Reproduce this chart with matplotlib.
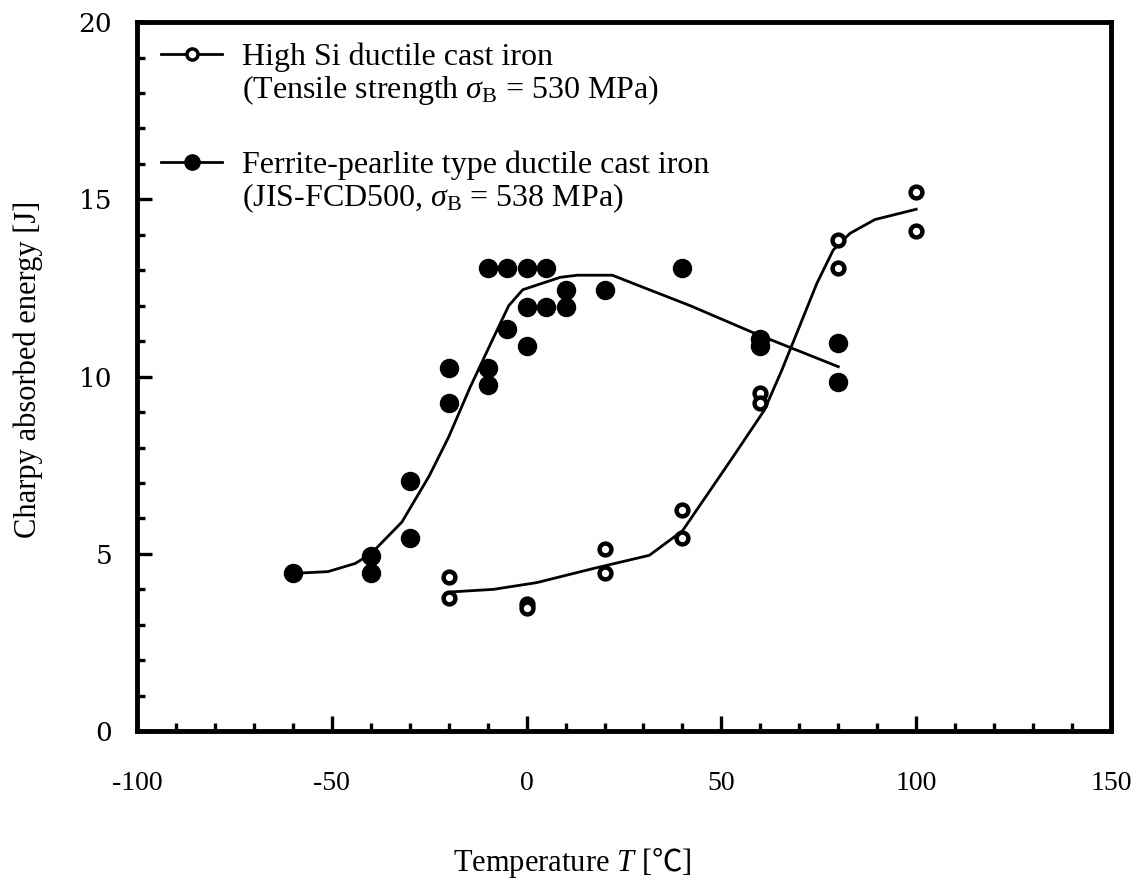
import numpy as np
import matplotlib
matplotlib.use("Agg")
import matplotlib.pyplot as plt

plt.rcParams['font.family'] = ['Liberation Serif', 'DejaVu Serif']
plt.rcParams['mathtext.fontset'] = 'custom'
plt.rcParams['mathtext.rm'] = 'Liberation Serif'
plt.rcParams['mathtext.it'] = 'Liberation Serif:italic'
plt.rcParams['mathtext.sf'] = 'Noto Sans CJK JP'
plt.rcParams['axes.unicode_minus'] = False

# measured points, high Si ductile cast iron
si_temp = [-20, -20, 0, 0, 20, 20, 40, 40, 60, 60, 80, 80, 100, 100]
si_energy = [4.35, 3.75, 3.6, 3.48, 5.15, 4.45, 6.25, 5.45, 9.55, 9.25, 13.85, 13.05, 15.2, 14.1]

# fitted transition curve, high Si
si_fit_temp = [-19, -8.5, 2.6, 17.2, 31.5, 40, 53, 61, 65.5, 74.5, 78.7, 83, 89.4, 100]
si_fit_energy = [3.93, 4.0, 4.19, 4.59, 4.96, 5.65, 7.74, 9.05, 10.18, 12.63, 13.57, 14.04, 14.43, 14.72]

# measured points, ferrite-pearlite FCD500
fp_temp = [-60, -40, -40, -30, -30, -20, -20, -10, -10, -10, -5, -5,
           0, 0, 0, 5, 5, 10, 10, 20, 40, 60, 60, 80, 80]
fp_energy = [4.45, 4.95, 4.45, 7.05, 5.45, 10.25, 9.25, 13.05, 10.25, 9.75, 13.05, 11.35,
             13.05, 11.95, 10.85, 13.05, 11.95, 12.45, 11.95, 12.45, 13.05, 11.05, 10.85, 10.95, 9.85]

# fitted transition curve, ferrite-pearlite
fp_fit_temp = [-60, -51, -44, -40, -32, -25, -20, -14.5, -8.5, -4.6, -1, 8.6, 13, 22, 28, 42, 59, 80]
fp_fit_energy = [4.45, 4.5, 4.73, 5.0, 5.9, 7.2, 8.3, 9.7, 11.1, 12.0, 12.45, 12.8, 12.86, 12.86, 12.6, 12.0, 11.2, 10.28]

legend_lines = [
    ("High Si ductile cast iron", r"(Tensile strength $\sigma_\mathrm{B}$ = 530 MPa)"),
    ("Ferrite-pearlite type ductile cast iron", r"(JIS-FCD500, $\sigma_\mathrm{B}$ = 538 MPa)"),
]

fig = plt.figure(figsize=(11.43, 8.82), dpi=100)
ax = fig.add_axes([0.1199, 0.171, 0.8521, 0.804])

ax.plot(si_fit_temp, si_fit_energy, color='black', lw=2.0, zorder=2)
ax.plot(fp_fit_temp, fp_fit_energy, color='black', lw=2.0, zorder=2)
ax.plot(fp_temp, fp_energy, 'o', ms=13, color='black', zorder=3)
ax.plot(si_temp, si_energy, 'o', ms=8.5, mfc='white', mec='black', mew=3.2, zorder=4)

ax.set_xlim(-100, 150)
ax.set_ylim(0, 20)
ax.set_xticks(np.arange(-100, 151, 50))
ax.set_xticks(np.arange(-100, 151, 10), minor=True)
ax.set_yticks(np.arange(0, 21, 5))
ax.set_yticks(np.arange(0, 21, 1), minor=True)
ax.tick_params(axis='both', which='both', direction='in', top=False, right=False,
               width=2.4, labelsize=20)
ax.tick_params(axis='both', which='major', length=11)
ax.tick_params(axis='both', which='minor', length=6)
ax.tick_params(axis='x', which='major', pad=29)
ax.tick_params(axis='y', which='major', pad=18, labelsize=19)
for lbl in ax.get_yticklabels():
    lbl.set_fontfamily('DejaVu Serif')
for sp in ax.spines.values():
    sp.set_linewidth(3.5)

ax.set_xlabel(r"Temperature $T$ [$\mathsf{℃}$]", fontsize=22)
ax.set_ylabel("Charpy absorbed energy [J]", fontsize=22)
ax.xaxis.set_label_coords(0.447, -0.16)
ax.yaxis.set_label_coords(-0.097, 0.51)

# hand-built legend: marker sits on the first line of each two-line label
handle_styles = [
    dict(ms=8, mfc='white', mec='black', mew=2.5),
    dict(ms=11, mfc='black', mec='black'),
]
entry_y = [0.955, 0.803]
line_gap = 0.045
for (first, second), y, style in zip(legend_lines, entry_y, handle_styles):
    ax.plot([0.025, 0.087], [y, y], color='black', lw=2.0, transform=ax.transAxes)
    ax.plot([0.0565], [y], 'o', transform=ax.transAxes, **style)
    ax.text(0.108, y, first, fontsize=23, va='center_baseline', transform=ax.transAxes)
    ax.text(0.108, y - line_gap, second, fontsize=23, va='center_baseline', transform=ax.transAxes)

fig.savefig("out.png", dpi=100)
